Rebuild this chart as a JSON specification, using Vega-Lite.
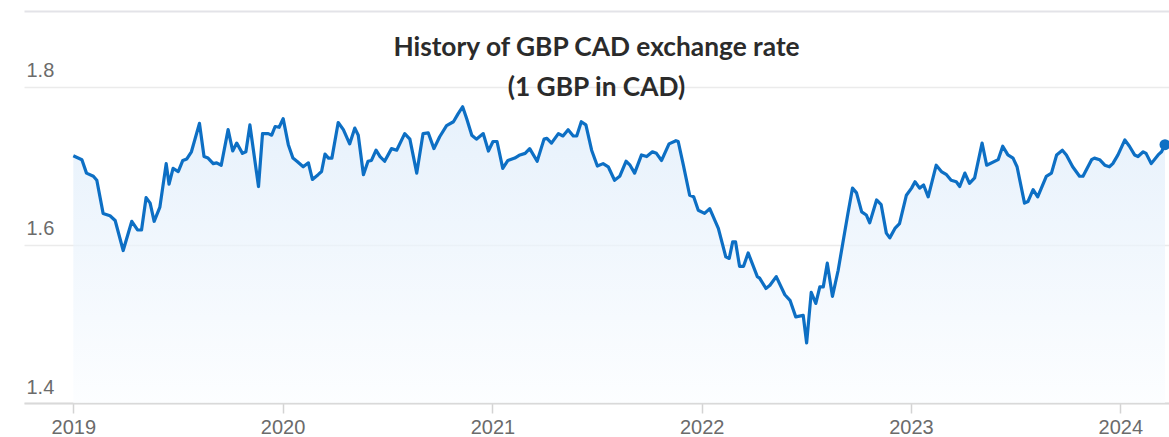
{
  "$schema": "https://vega.github.io/schema/vega-lite/v6.json",
  "width": 1145,
  "height": 392,
  "autosize": {"type": "none"},
  "padding": {"left": 24, "top": 11, "right": 0, "bottom": 34},
  "background": "#ffffff",
  "view": {"stroke": null},
  "title": {
    "text": ["History of GBP CAD exchange rate", "(1 GBP in CAD)"],
    "anchor": "middle",
    "frame": "group",
    "font": "Lato",
    "fontSize": 26.3,
    "fontWeight": "bold",
    "lineHeight": 40,
    "color": "#2b2b2b",
    "offset": -90
  },
  "datasets": {
    "rates": [
      {"date": "2019-01-01", "rate": 1.713},
      {"date": "2019-01-16", "rate": 1.708},
      {"date": "2019-01-24", "rate": 1.691},
      {"date": "2019-02-05", "rate": 1.687},
      {"date": "2019-02-11", "rate": 1.682},
      {"date": "2019-02-22", "rate": 1.640},
      {"date": "2019-03-06", "rate": 1.637},
      {"date": "2019-03-15", "rate": 1.631},
      {"date": "2019-03-29", "rate": 1.593},
      {"date": "2019-04-13", "rate": 1.630},
      {"date": "2019-04-23", "rate": 1.619},
      {"date": "2019-04-30", "rate": 1.619},
      {"date": "2019-05-08", "rate": 1.660},
      {"date": "2019-05-15", "rate": 1.653},
      {"date": "2019-05-22", "rate": 1.630},
      {"date": "2019-06-01", "rate": 1.648},
      {"date": "2019-06-12", "rate": 1.703},
      {"date": "2019-06-17", "rate": 1.677},
      {"date": "2019-06-24", "rate": 1.697},
      {"date": "2019-07-03", "rate": 1.693},
      {"date": "2019-07-11", "rate": 1.707},
      {"date": "2019-07-18", "rate": 1.709},
      {"date": "2019-07-26", "rate": 1.718},
      {"date": "2019-08-09", "rate": 1.754},
      {"date": "2019-08-17", "rate": 1.712},
      {"date": "2019-08-24", "rate": 1.710},
      {"date": "2019-09-02", "rate": 1.703},
      {"date": "2019-09-08", "rate": 1.704},
      {"date": "2019-09-16", "rate": 1.701},
      {"date": "2019-09-28", "rate": 1.746},
      {"date": "2019-10-06", "rate": 1.719},
      {"date": "2019-10-13", "rate": 1.729},
      {"date": "2019-10-23", "rate": 1.716},
      {"date": "2019-10-29", "rate": 1.718},
      {"date": "2019-11-05", "rate": 1.752},
      {"date": "2019-11-20", "rate": 1.674},
      {"date": "2019-11-27", "rate": 1.741},
      {"date": "2019-12-07", "rate": 1.741},
      {"date": "2019-12-13", "rate": 1.739},
      {"date": "2019-12-19", "rate": 1.750},
      {"date": "2019-12-26", "rate": 1.749},
      {"date": "2020-01-02", "rate": 1.760},
      {"date": "2020-01-11", "rate": 1.727},
      {"date": "2020-01-19", "rate": 1.710},
      {"date": "2020-01-26", "rate": 1.706},
      {"date": "2020-02-06", "rate": 1.699},
      {"date": "2020-02-15", "rate": 1.704},
      {"date": "2020-02-22", "rate": 1.683},
      {"date": "2020-03-03", "rate": 1.689},
      {"date": "2020-03-09", "rate": 1.693},
      {"date": "2020-03-15", "rate": 1.715},
      {"date": "2020-03-21", "rate": 1.710},
      {"date": "2020-03-27", "rate": 1.710},
      {"date": "2020-04-07", "rate": 1.755},
      {"date": "2020-04-16", "rate": 1.746},
      {"date": "2020-04-27", "rate": 1.728},
      {"date": "2020-05-06", "rate": 1.748},
      {"date": "2020-05-12", "rate": 1.739},
      {"date": "2020-05-21", "rate": 1.689},
      {"date": "2020-05-29", "rate": 1.706},
      {"date": "2020-06-04", "rate": 1.707},
      {"date": "2020-06-12", "rate": 1.720},
      {"date": "2020-06-19", "rate": 1.712},
      {"date": "2020-06-27", "rate": 1.706},
      {"date": "2020-07-09", "rate": 1.722},
      {"date": "2020-07-18", "rate": 1.720},
      {"date": "2020-08-01", "rate": 1.741},
      {"date": "2020-08-10", "rate": 1.734},
      {"date": "2020-08-22", "rate": 1.691},
      {"date": "2020-09-02", "rate": 1.741},
      {"date": "2020-09-11", "rate": 1.742},
      {"date": "2020-09-21", "rate": 1.722},
      {"date": "2020-10-01", "rate": 1.737},
      {"date": "2020-10-13", "rate": 1.751},
      {"date": "2020-10-25", "rate": 1.756},
      {"date": "2020-11-02", "rate": 1.766},
      {"date": "2020-11-10", "rate": 1.775},
      {"date": "2020-11-17", "rate": 1.760},
      {"date": "2020-11-26", "rate": 1.739},
      {"date": "2020-12-04", "rate": 1.734},
      {"date": "2020-12-16", "rate": 1.741},
      {"date": "2020-12-25", "rate": 1.719},
      {"date": "2021-01-02", "rate": 1.731},
      {"date": "2021-01-09", "rate": 1.731},
      {"date": "2021-01-19", "rate": 1.697},
      {"date": "2021-01-28", "rate": 1.707},
      {"date": "2021-02-09", "rate": 1.710},
      {"date": "2021-02-18", "rate": 1.714},
      {"date": "2021-02-27", "rate": 1.716},
      {"date": "2021-03-07", "rate": 1.722},
      {"date": "2021-03-20", "rate": 1.706},
      {"date": "2021-04-01", "rate": 1.734},
      {"date": "2021-04-06", "rate": 1.735},
      {"date": "2021-04-14", "rate": 1.729},
      {"date": "2021-04-26", "rate": 1.741},
      {"date": "2021-05-04", "rate": 1.738},
      {"date": "2021-05-13", "rate": 1.746},
      {"date": "2021-05-22", "rate": 1.738},
      {"date": "2021-05-28", "rate": 1.738},
      {"date": "2021-06-05", "rate": 1.756},
      {"date": "2021-06-13", "rate": 1.752},
      {"date": "2021-06-23", "rate": 1.720},
      {"date": "2021-07-03", "rate": 1.700},
      {"date": "2021-07-13", "rate": 1.703},
      {"date": "2021-07-22", "rate": 1.699},
      {"date": "2021-08-02", "rate": 1.682},
      {"date": "2021-08-11", "rate": 1.687},
      {"date": "2021-08-22", "rate": 1.706},
      {"date": "2021-08-29", "rate": 1.701},
      {"date": "2021-09-06", "rate": 1.691},
      {"date": "2021-09-18", "rate": 1.714},
      {"date": "2021-09-27", "rate": 1.712},
      {"date": "2021-10-07", "rate": 1.718},
      {"date": "2021-10-14", "rate": 1.716},
      {"date": "2021-10-23", "rate": 1.707},
      {"date": "2021-11-05", "rate": 1.728},
      {"date": "2021-11-17", "rate": 1.732},
      {"date": "2021-11-21", "rate": 1.731},
      {"date": "2021-11-30", "rate": 1.701},
      {"date": "2021-12-11", "rate": 1.663},
      {"date": "2021-12-18", "rate": 1.661},
      {"date": "2021-12-26", "rate": 1.644},
      {"date": "2022-01-06", "rate": 1.640},
      {"date": "2022-01-15", "rate": 1.646},
      {"date": "2022-01-30", "rate": 1.621},
      {"date": "2022-02-12", "rate": 1.585},
      {"date": "2022-02-18", "rate": 1.583},
      {"date": "2022-02-24", "rate": 1.604},
      {"date": "2022-03-01", "rate": 1.604},
      {"date": "2022-03-08", "rate": 1.573},
      {"date": "2022-03-15", "rate": 1.573},
      {"date": "2022-03-23", "rate": 1.590},
      {"date": "2022-04-08", "rate": 1.560},
      {"date": "2022-04-12", "rate": 1.558},
      {"date": "2022-04-23", "rate": 1.545},
      {"date": "2022-04-30", "rate": 1.549},
      {"date": "2022-05-11", "rate": 1.560},
      {"date": "2022-05-26", "rate": 1.537},
      {"date": "2022-06-04", "rate": 1.530},
      {"date": "2022-06-14", "rate": 1.509},
      {"date": "2022-06-27", "rate": 1.511},
      {"date": "2022-07-03", "rate": 1.476},
      {"date": "2022-07-11", "rate": 1.540},
      {"date": "2022-07-19", "rate": 1.526},
      {"date": "2022-07-26", "rate": 1.547},
      {"date": "2022-08-01", "rate": 1.547},
      {"date": "2022-08-08", "rate": 1.577},
      {"date": "2022-08-17", "rate": 1.535},
      {"date": "2022-08-27", "rate": 1.568},
      {"date": "2022-09-04", "rate": 1.602},
      {"date": "2022-09-13", "rate": 1.640},
      {"date": "2022-09-21", "rate": 1.672},
      {"date": "2022-09-28", "rate": 1.666},
      {"date": "2022-10-07", "rate": 1.642},
      {"date": "2022-10-15", "rate": 1.638},
      {"date": "2022-10-21", "rate": 1.628},
      {"date": "2022-11-02", "rate": 1.657},
      {"date": "2022-11-10", "rate": 1.651},
      {"date": "2022-11-19", "rate": 1.615},
      {"date": "2022-11-25", "rate": 1.609},
      {"date": "2022-12-04", "rate": 1.621},
      {"date": "2022-12-12", "rate": 1.627},
      {"date": "2022-12-24", "rate": 1.663},
      {"date": "2023-01-02", "rate": 1.672},
      {"date": "2023-01-08", "rate": 1.680},
      {"date": "2023-01-16", "rate": 1.672},
      {"date": "2023-01-23", "rate": 1.676},
      {"date": "2023-01-31", "rate": 1.661},
      {"date": "2023-02-14", "rate": 1.701},
      {"date": "2023-02-23", "rate": 1.693},
      {"date": "2023-03-04", "rate": 1.689},
      {"date": "2023-03-12", "rate": 1.682},
      {"date": "2023-03-21", "rate": 1.680},
      {"date": "2023-03-27", "rate": 1.674},
      {"date": "2023-04-05", "rate": 1.691},
      {"date": "2023-04-13", "rate": 1.678},
      {"date": "2023-04-22", "rate": 1.685},
      {"date": "2023-05-05", "rate": 1.729},
      {"date": "2023-05-13", "rate": 1.701},
      {"date": "2023-06-02", "rate": 1.708},
      {"date": "2023-06-10", "rate": 1.725},
      {"date": "2023-06-19", "rate": 1.714},
      {"date": "2023-06-28", "rate": 1.710},
      {"date": "2023-07-05", "rate": 1.699},
      {"date": "2023-07-18", "rate": 1.653},
      {"date": "2023-07-24", "rate": 1.655},
      {"date": "2023-08-02", "rate": 1.670},
      {"date": "2023-08-10", "rate": 1.661},
      {"date": "2023-08-25", "rate": 1.687},
      {"date": "2023-09-03", "rate": 1.691},
      {"date": "2023-09-12", "rate": 1.714},
      {"date": "2023-09-22", "rate": 1.720},
      {"date": "2023-09-29", "rate": 1.714},
      {"date": "2023-10-10", "rate": 1.699},
      {"date": "2023-10-22", "rate": 1.687},
      {"date": "2023-10-28", "rate": 1.687},
      {"date": "2023-11-12", "rate": 1.708},
      {"date": "2023-11-17", "rate": 1.710},
      {"date": "2023-11-26", "rate": 1.708},
      {"date": "2023-12-05", "rate": 1.701},
      {"date": "2023-12-13", "rate": 1.699},
      {"date": "2023-12-19", "rate": 1.703},
      {"date": "2023-12-28", "rate": 1.714},
      {"date": "2024-01-09", "rate": 1.733},
      {"date": "2024-01-17", "rate": 1.725},
      {"date": "2024-01-26", "rate": 1.714},
      {"date": "2024-02-01", "rate": 1.712},
      {"date": "2024-02-10", "rate": 1.718},
      {"date": "2024-02-15", "rate": 1.716},
      {"date": "2024-02-24", "rate": 1.703},
      {"date": "2024-03-07", "rate": 1.714},
      {"date": "2024-03-13", "rate": 1.718},
      {"date": "2024-03-19", "rate": 1.727}
    ],
    "latest": [
      {"date": "2024-03-19", "rate": 1.727}
    ]
  },
  "resolve": {"axis": {"x": "independent"}},
  "layer": [
    {
      "data": {"name": "rates"},
      "mark": {
        "type": "area",
        "color": {
          "gradient": "linear",
          "x1": 0, "y1": 0, "x2": 0, "y2": 1,
          "stops": [
            {"offset": 0, "color": "#dcebfa"},
            {"offset": 1, "color": "#fbfdff"}
          ]
        },
        "line": {"color": "#0d6fc4", "strokeWidth": 3.2, "strokeJoin": "round"}
      },
      "encoding": {
        "x": {
          "field": "date",
          "type": "temporal",
          "scale": {
            "type": "utc",
            "domain": [
              {"year": 2018, "month": 10, "date": 7, "utc": true},
              {"year": 2024, "month": 3, "date": 26, "utc": true}
            ]
          },
          "axis": {
            "orient": "bottom",
            "values": [
              {"year": 2019, "month": 1, "date": 1, "utc": true},
              {"year": 2020, "month": 1, "date": 1, "utc": true},
              {"year": 2021, "month": 1, "date": 1, "utc": true},
              {"year": 2022, "month": 1, "date": 1, "utc": true},
              {"year": 2023, "month": 1, "date": 1, "utc": true},
              {"year": 2024, "month": 1, "date": 1, "utc": true}
            ],
            "format": "%Y",
            "formatType": "utc",
            "title": null,
            "grid": false,
            "domainColor": "#d9d9d9",
            "domainWidth": 2,
            "tickColor": "#d3d3d3",
            "tickSize": 10,
            "tickWidth": 1.5,
            "labelPadding": 4,
            "labelFlush": false,
            "labelOverlap": false,
            "labelFont": "Liberation Sans",
            "labelFontSize": 20,
            "labelColor": "#6b6b6b"
          }
        },
        "y": {
          "field": "rate",
          "type": "quantitative",
          "scale": {"domain": [1.4, 1.8962], "nice": false, "zero": false},
          "axis": {
            "values": [1.4, 1.6, 1.8],
            "format": ".1f",
            "title": null,
            "grid": true,
            "gridColor": "#ebebeb",
            "gridWidth": 1.5,
            "domain": false,
            "ticks": false,
            "labelAlign": "left",
            "labelBaseline": "alphabetic",
            "labelPadding": -2,
            "labelOffset": -10,
            "labelFont": "Liberation Sans",
            "labelFontSize": 20,
            "labelColor": "#6b6b6b"
          }
        },
        "y2": {"datum": 1.4}
      }
    },
    {
      "data": {"name": "latest"},
      "mark": {"type": "point", "filled": true, "opacity": 1, "size": 120, "color": "#0d6fc4"},
      "encoding": {
        "x": {
          "field": "date",
          "type": "temporal",
          "axis": {
            "orient": "top",
            "labels": false,
            "ticks": false,
            "grid": false,
            "title": null,
            "domainColor": "#e3e3e8",
            "domainWidth": 2
          }
        },
        "y": {"field": "rate", "type": "quantitative"}
      }
    }
  ]
}
